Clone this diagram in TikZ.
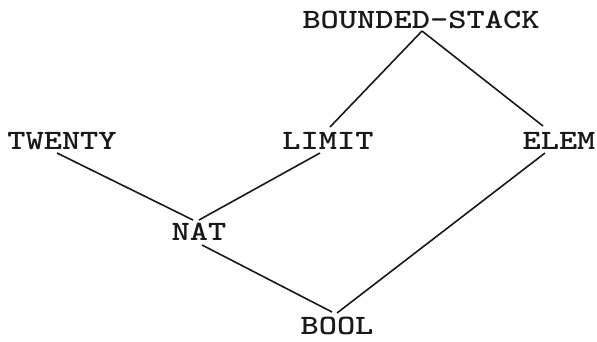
\documentclass[tikz,border=0pt]{standalone}
\usetikzlibrary{calc}
\newcommand{\twtext}[1]{\scalebox{1.24}[1]{\ttfamily\bfseries\fontsize{28}{28}\selectfont #1}}
\begin{document}
\begin{tikzpicture}[x=1pt,y=-1pt,
  lbl/.style={inner sep=0pt, text=black!90},
  edge/.style={line width=1.6pt, black!90}]
\useasboundingbox (0,0) rectangle (597,341);
\node[lbl] (bs) at (421,20) {\twtext{BOUNDED-STACK}};
\node[lbl] (twenty) at (62,141) {\twtext{TWENTY}};
\node[lbl] (limit) at (328,141) {\twtext{LIMIT}};
\node[lbl] (elem) at (559,141) {\twtext{ELEM}};
\node[lbl] (nat) at (199,232) {\twtext{NAT}};
\node[lbl] (bool) at (337,326) {\twtext{BOOL}};
\draw[edge] ($(bs)+(1,11)$) -- ($(limit)+(2,-14)$);
\draw[edge] ($(bs)+(1,11)$) -- ($(elem)+(-16,-15)$);
\draw[edge] ($(twenty)+(-5,12)$) -- ($(nat)+(-6,-12)$);
\draw[edge] ($(limit)+(-8,12)$) -- ($(nat)+(0,-12)$);
\draw[edge] ($(nat)+(3,13)$) -- ($(bool)+(-5,-14)$);
\draw[edge] ($(elem)+(-14,12)$) -- ($(bool)+(0,-13)$);
\end{tikzpicture}
\end{document}
